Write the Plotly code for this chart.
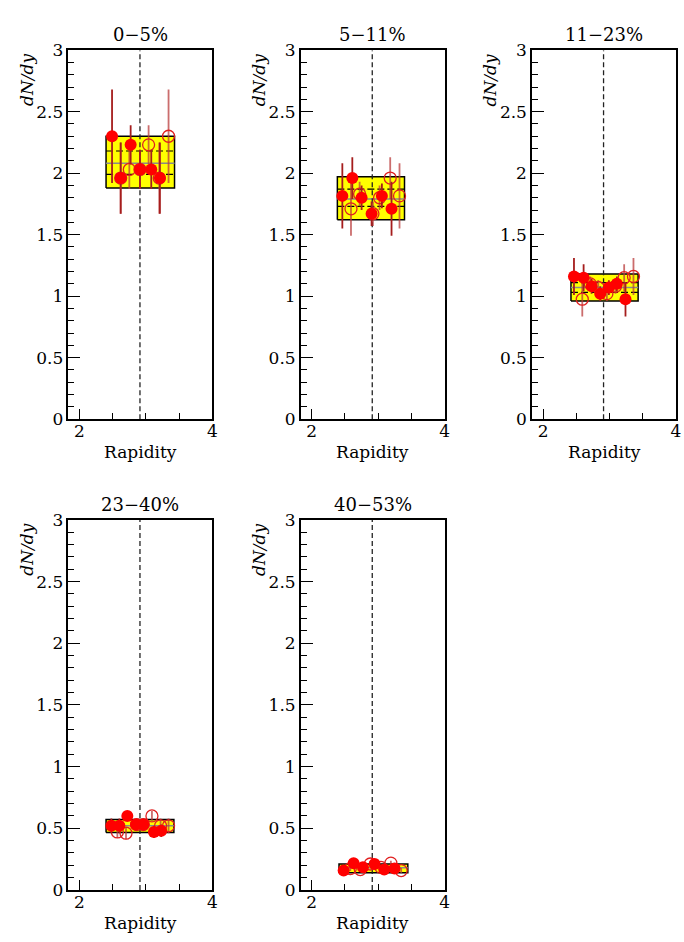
import plotly.graph_objects as go

# midrapidity (dashed vertical line)
Y_CM = 2.91

CENTRALITY = ["0\u22125%", "5\u221211%", "11\u221223%", "23\u221240%", "40\u221253%"]

# measured points (filled symbols)
MEAS_RAP = [
    [2.49, 2.62, 2.77, 2.91, 3.08, 3.21],
    [2.46, 2.61, 2.75, 2.90, 3.055, 3.20],
    [2.465, 2.61, 2.73, 2.86, 2.99, 3.11, 3.24],
    [2.48, 2.60, 2.72, 2.85, 2.96, 3.12, 3.23],
    [2.48, 2.63, 2.77, 2.945, 3.09, 3.245],
]
MEAS_DNDY = [
    [2.30, 1.96, 2.23, 2.03, 2.03, 1.96],
    [1.815, 1.96, 1.80, 1.67, 1.815, 1.71],
    [1.16, 1.15, 1.08, 1.02, 1.07, 1.10, 0.975],
    [0.52, 0.52, 0.60, 0.53, 0.53, 0.47, 0.48],
    [0.157, 0.217, 0.183, 0.21, 0.165, 0.173],
]
MEAS_ERR = [
    [0.38, 0.29, 0.16, 0.16, 0.16, 0.29],
    [0.265, 0.17, 0.10, 0.10, 0.10, 0.22],
    [0.15, 0.11, 0.06, 0.06, 0.06, 0.06, 0.14],
    [0.06, 0.06, 0.04, 0.04, 0.04, 0.05, 0.05],
    [0.02, 0.02, 0.02, 0.02, 0.02, 0.02],
]

# points reflected about midrapidity (open symbols)
REFL_RAP = [
    [2.62, 2.75, 2.91, 3.04, 3.20, 3.34],
    [2.59, 2.72, 2.92, 3.02, 3.18, 3.32],
    [2.59, 2.71, 2.83, 2.96, 3.09, 3.22, 3.36],
    [2.57, 2.70, 2.86, 2.96, 3.09, 3.22, 3.34],
    [2.58, 2.73, 2.88, 3.04, 3.19, 3.345],
]
REFL_DNDY = [
    [1.96, 2.03, 2.03, 2.23, 1.96, 2.30],
    [1.71, 1.83, 1.67, 1.80, 1.96, 1.815],
    [0.975, 1.10, 1.07, 1.02, 1.08, 1.15, 1.16],
    [0.47, 0.46, 0.53, 0.53, 0.60, 0.52, 0.52],
    [0.173, 0.165, 0.21, 0.183, 0.217, 0.157],
]
REFL_ERR = [
    [0.29, 0.16, 0.16, 0.16, 0.29, 0.38],
    [0.22, 0.10, 0.10, 0.10, 0.17, 0.265],
    [0.14, 0.06, 0.06, 0.06, 0.06, 0.11, 0.15],
    [0.05, 0.05, 0.04, 0.04, 0.04, 0.06, 0.06],
    [0.02, 0.02, 0.02, 0.02, 0.02, 0.02],
]

# systematic band: rapidity extent, lower / upper / central value, inner lines
BAND_RAP = [[2.40, 3.43], [2.385, 3.395], [2.42, 3.43], [2.40, 3.42], [2.41, 3.445]]
BAND_LO = [1.88, 1.62, 0.96, 0.465, 0.14]
BAND_HI = [2.30, 1.97, 1.18, 0.57, 0.21]
BAND_MID = [2.08, 1.79, 1.07, 0.52, 0.18]
BAND_INNER = [[1.99, 2.18], [1.73, 1.87], [1.03, 1.11], [], []]

X_RANGE = [1.835, 4.0]
Y_RANGE = [0, 3]

W, H = 684, 942
# panel frames in pixels: (left, right, top, bottom)
FRAMES = [
    (69, 214, 41, 418),
    (303, 448, 41, 418),
    (536, 681, 41, 418),
    (69, 214, 521, 899),
    (303, 448, 521, 899),
]

FONT = "DejaVu Serif"
FS = 17

fig = go.Figure()
annotations = []
layout = {}

for i in range(5):
    k = "" if i == 0 else str(i + 1)
    xa, ya = "x" + k, "y" + k
    l, r, t, b = FRAMES[i]

    x0, x1 = BAND_RAP[i]
    fig.add_trace(go.Scatter(
        x=[x0, x1, x1, x0, x0], y=[BAND_LO[i], BAND_LO[i], BAND_HI[i], BAND_HI[i], BAND_LO[i]],
        mode="lines", fill="toself", fillcolor="#ffff00",
        line=dict(color="black", width=1.5), xaxis=xa, yaxis=ya,
        showlegend=False, hoverinfo="skip"))
    fig.add_trace(go.Scatter(
        x=[x0, x1], y=[BAND_MID[i], BAND_MID[i]], mode="lines",
        line=dict(color="#8a8a8a", width=1.5), xaxis=xa, yaxis=ya,
        showlegend=False, hoverinfo="skip"))
    for yv in BAND_INNER[i]:
        fig.add_trace(go.Scatter(
            x=[x0, x1], y=[yv, yv], mode="lines",
            line=dict(color="black", width=1.2, dash="7px,3px"), xaxis=xa, yaxis=ya,
            showlegend=False, hoverinfo="skip"))

    fig.add_trace(go.Scatter(
        x=[Y_CM, Y_CM], y=Y_RANGE, mode="lines",
        line=dict(color="#222222", width=1.3, dash="5px,3px"), xaxis=xa, yaxis=ya,
        showlegend=False, hoverinfo="skip"))

    fig.add_trace(go.Scatter(
        x=REFL_RAP[i], y=REFL_DNDY[i], mode="markers",
        marker=dict(symbol="circle-open", size=12, color="#e02020", line=dict(width=1.3)),
        error_y=dict(type="data", array=REFL_ERR[i], color="rgba(185,60,60,0.75)",
                     thickness=1.8, width=0),
        xaxis=xa, yaxis=ya, showlegend=False))
    fig.add_trace(go.Scatter(
        x=MEAS_RAP[i], y=MEAS_DNDY[i], mode="markers",
        marker=dict(symbol="circle", size=12, color="#ff0000", line=dict(width=0)),
        error_y=dict(type="data", array=MEAS_ERR[i], color="#a51d1d",
                     thickness=1.8, width=0),
        xaxis=xa, yaxis=ya, showlegend=False))

    common = dict(showline=True, mirror=True, linecolor="black", linewidth=1.5,
                  showgrid=False, zeroline=False, ticks="inside", tickcolor="black",
                  tickwidth=1.2, tickfont=dict(family=FONT, size=FS, color="black"))
    layout["xaxis" + k] = dict(
        common, domain=[l / W, r / W], range=X_RANGE, anchor=ya,
        tick0=2, dtick=2, ticklen=10, ticklabelstandoff=-4,
        minor=dict(tick0=2, dtick=0.5, ticks="inside", ticklen=6, tickcolor="black",
                   tickwidth=1, showgrid=False))
    layout["yaxis" + k] = dict(
        common, domain=[1 - b / H, 1 - t / H], range=Y_RANGE, anchor=xa,
        tick0=0, dtick=0.5, ticklen=12,
        minor=dict(tick0=0, dtick=0.1, ticks="inside", ticklen=6, tickcolor="black",
                   tickwidth=1, showgrid=False))

    cx = (l + r) / 2 / W
    annotations.append(dict(text=CENTRALITY[i], x=cx, y=1 - (t - 16) / H,
                            xref="paper", yref="paper", xanchor="center", yanchor="middle",
                            showarrow=False, font=dict(family=FONT, size=18, color="black")))
    annotations.append(dict(text="Rapidity", x=cx, y=1 - (b + 34) / H,
                            xref="paper", yref="paper", xanchor="center", yanchor="middle",
                            showarrow=False, font=dict(family=FONT, size=FS, color="black")))
    annotations.append(dict(text="<i>dN/dy</i>", x=(l - 42) / W, y=1 - (t + 2) / H,
                            xref="paper", yref="paper", xanchor="center", yanchor="top",
                            textangle=-90, showarrow=False,
                            font=dict(family=FONT, size=FS, color="black")))

fig.update_layout(
    width=W, height=H, margin=dict(l=0, r=0, t=0, b=0),
    paper_bgcolor="white", plot_bgcolor="white",
    annotations=annotations, **layout)

fig.write_html("out.html")
